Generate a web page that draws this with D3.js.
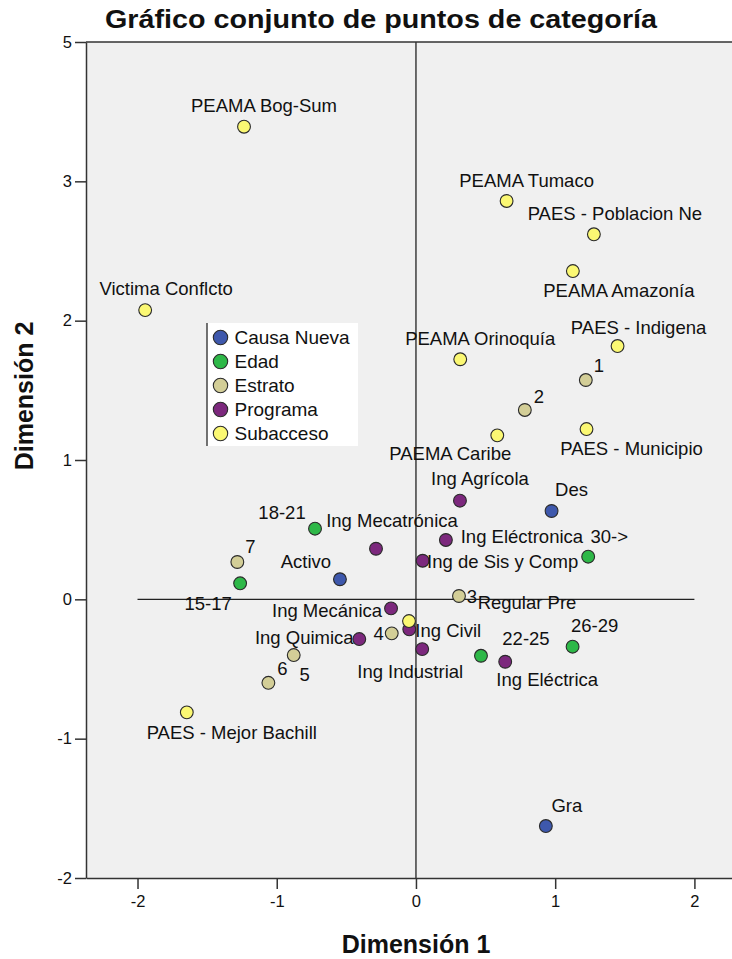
<!DOCTYPE html>
<html>
<head>
<meta charset="utf-8">
<script src="https://cdn.jsdelivr.net/npm/d3@7/dist/d3.min.js"></script>
<style>
  html, body { margin: 0; padding: 0; background: #fff; }
  svg { display: block; }
  text { font-family: "Liberation Sans", Arial, sans-serif; fill: #111; }
</style>
</head>
<body>
<svg id="chart" width="732" height="959"></svg>
<script>
// ---------------- DATA ----------------
const groups = ["Causa Nueva", "Edad", "Estrato", "Programa", "Subacceso"];

const causaNames = ["Activo", "Des", "Gra"];
const causaDim1  = [-0.546, 0.974, 0.933];
const causaDim2  = [0.144, 0.634, -1.627];

const edadNames = ["15-17", "18-21", "22-25", "26-29", "30->"];
const edadDim1  = [-1.263, -0.725, 0.467, 1.125, 1.237];
const edadDim2  = [0.115, 0.507, -0.405, -0.340, 0.306];

const estratoNames = ["1", "2", "3", "4", "5", "6", "7"];
const estratoDim1  = [1.220, 0.782, 0.309, -0.174, -0.878, -1.060, -1.283];
const estratoDim2  = [1.574, 1.359, 0.024, -0.244, -0.400, -0.599, 0.268];

const programaNames = ["Ing Agrícola", "Ing Mecatrónica", "Ing Eléctronica", "Ing de Sis y Comp",
  "Ing Mecánica", "Ing Civil", "Ing Quimica", "Ing Industrial", "Ing Eléctrica"];
const programaDim1 = [0.316, -0.287, 0.215, 0.048, -0.179, -0.048, -0.407, 0.045, 0.641];
const programaDim2 = [0.708, 0.363, 0.426, 0.277, -0.065, -0.215, -0.285, -0.357, -0.448];

const subaccesoNames = ["PEAMA Bog-Sum", "Victima Conflcto", "PEAMA Tumaco", "PAES - Poblacion Ne",
  "PEAMA Amazonía", "PAES - Indigena", "PEAMA Orinoquía", "PAEMA Caribe", "PAES - Municipio",
  "Regular Pre", "PAES - Mejor Bachill"];
const subaccesoDim1 = [-1.235, -1.945, 0.651, 1.278, 1.127, 1.448, 0.318, 0.584, 1.225, -0.050, -1.646];
const subaccesoDim2 = [3.392, 2.076, 2.859, 2.620, 2.356, 1.818, 1.723, 1.177, 1.222, -0.156, -0.811];

const xTickValues = [-2, -1, 0, 1, 2];
const xTickLabels = ["-2", "-1", "0", "1", "2"];
const yTickValues = [-2, -1, 0, 1, 2, 3, 4];
const yTickLabels = ["-2", "-1", "0", "1", "2", "3", "5"];

const title = "Gráfico conjunto de puntos de categoría";
const xTitle = "Dimensión 1";
const yTitle = "Dimensión 2";

// ---------------- LAYOUT / STYLE ----------------
const groupColors = ["#3E58AC", "#2EB848", "#D3CE97", "#7C287D", "#FBF873"];

// label offsets (pixels from point centre to label centre)
const labelOffsets = {
  "Activo": [-34, -18], "Des": [20, -21], "Gra": [21, -21],
  "15-17": [-32, 20], "18-21": [-33, -16], "22-25": [45, -17], "26-29": [22, -21], "30->": [21, -20],
  "1": [13, -14], "2": [14, -13], "3": [13, 1], "4": [-13, 0], "5": [11, 19], "6": [14, -14], "7": [13, -15],
  "Ing Agrícola": [20, -22], "Ing Mecatrónica": [16, -28], "Ing Eléctronica": [76, -3],
  "Ing de Sis y Comp": [80, 1], "Ing Mecánica": [-64, 2], "Ing Civil": [39, 1],
  "Ing Quimica": [-55, -2], "Ing Industrial": [-12, 22], "Ing Eléctrica": [42, 18],
  "PEAMA Bog-Sum": [20, -21], "Victima Conflcto": [21, -22], "PEAMA Tumaco": [20, -20],
  "PAES - Poblacion Ne": [21, -21], "PEAMA Amazonía": [46, 19], "PAES - Indigena": [21, -19],
  "PEAMA Orinoquía": [20, -21], "PAEMA Caribe": [-47, 18], "PAES - Municipio": [45, 19],
  "Regular Pre": [118, -19], "PAES - Mejor Bachill": [45, 20]
};

const plotLeft = 86, plotRight = 732, plotTop = 42, plotBottom = 878;

// ---------------- BUILD ----------------
const seriesTable = [
  [causaNames, causaDim1, causaDim2],
  [edadNames, edadDim1, edadDim2],
  [estratoNames, estratoDim1, estratoDim2],
  [programaNames, programaDim1, programaDim2],
  [subaccesoNames, subaccesoDim1, subaccesoDim2]
];
const points = [];
seriesTable.forEach((s, gi) => {
  s[0].forEach((name, i) => points.push({ group: gi, name, x: s[1][i], y: s[2][i] }));
});

const svg = d3.select("#chart");

const x = d3.scaleLinear().domain([-2.37, 2.27]).range([plotLeft, plotRight]);
const y = d3.scaleLinear().domain([-2, 4]).range([plotBottom, plotTop]);

// plot background
svg.append("rect")
  .attr("x", plotLeft).attr("y", plotTop)
  .attr("width", plotRight - plotLeft).attr("height", plotBottom - plotTop)
  .attr("fill", "#F0F0F0");

// reference lines
svg.append("line")
  .attr("x1", x(-2)).attr("x2", x(2)).attr("y1", y(0)).attr("y2", y(0))
  .attr("stroke", "#222").attr("stroke-width", 1.3);
svg.append("line")
  .attr("x1", x(0)).attr("x2", x(0)).attr("y1", y(4)).attr("y2", y(-2))
  .attr("stroke", "#222").attr("stroke-width", 1.3);

// frame
svg.append("line").attr("x1", plotLeft).attr("x2", plotRight).attr("y1", plotTop).attr("y2", plotTop)
  .attr("stroke", "#333").attr("stroke-width", 1.5);

// axes
const xAxis = d3.axisBottom(x).tickValues(xTickValues)
  .tickFormat((d, i) => xTickLabels[i]).tickSizeInner(11).tickSizeOuter(0).tickPadding(6);
const gx = svg.append("g").attr("transform", `translate(0,${plotBottom})`).call(xAxis);
gx.select(".domain").attr("stroke", "#333").attr("stroke-width", 1.5);
gx.selectAll(".tick line").attr("stroke", "#333").attr("stroke-width", 1.5);
gx.selectAll(".tick text").attr("font-size", 16.5).attr("fill", "#111")
  .style("font-family", "'Liberation Sans', Arial, sans-serif");

const yAxis = d3.axisLeft(y).tickValues(yTickValues)
  .tickFormat((d, i) => yTickLabels[i]).tickSizeInner(11).tickSizeOuter(0).tickPadding(3);
const gy = svg.append("g").attr("transform", `translate(${plotLeft},0)`).call(yAxis);
gy.select(".domain").attr("stroke", "#333").attr("stroke-width", 1.5);
gy.selectAll(".tick line").attr("stroke", "#333").attr("stroke-width", 1.5);
gy.selectAll(".tick text").attr("font-size", 16.5).attr("fill", "#111")
  .style("font-family", "'Liberation Sans', Arial, sans-serif");

// points
svg.append("g").selectAll("circle").data(points).join("circle")
  .attr("cx", d => x(d.x)).attr("cy", d => y(d.y)).attr("r", 6.4)
  .attr("fill", d => groupColors[d.group])
  .attr("stroke", "#2a2a2a").attr("stroke-width", 1.1);

// labels
svg.append("g").selectAll("text").data(points).join("text")
  .attr("x", d => x(d.x) + (labelOffsets[d.name] || [15, -15])[0])
  .attr("y", d => y(d.y) + (labelOffsets[d.name] || [15, -15])[1])
  .attr("dy", "0.35em")
  .attr("text-anchor", "middle")
  .attr("font-size", 18.5)
  .attr("fill", "#111")
  .text(d => d.name);

// legend
const legend = svg.append("g");
legend.append("rect").attr("x", 207).attr("y", 323).attr("width", 151).attr("height", 123).attr("fill", "#fff");
legend.append("line").attr("x1", 207).attr("x2", 207).attr("y1", 323).attr("y2", 446)
  .attr("stroke", "#444").attr("stroke-width", 1.5);
const li = legend.selectAll("g").data(groups).join("g")
  .attr("transform", (d, i) => `translate(220.5,${337.5 + i * 24})`);
li.append("circle").attr("r", 7.2).attr("fill", (d, i) => groupColors[i])
  .attr("stroke", "#2a2a2a").attr("stroke-width", 1.1);
li.append("text").attr("x", 14).attr("dy", "0.35em").attr("font-size", 19).text(d => d);

// titles
svg.append("text").attr("x", 381).attr("y", 28).attr("text-anchor", "middle")
  .attr("font-size", 26).attr("font-weight", "bold")
  .attr("textLength", 552).attr("lengthAdjust", "spacingAndGlyphs")
  .text(title);
svg.append("text").attr("x", 416).attr("y", 953).attr("text-anchor", "middle")
  .attr("font-size", 25).attr("font-weight", "bold").text(xTitle);
svg.append("text").attr("transform", "translate(33,396) rotate(-90)").attr("text-anchor", "middle")
  .attr("font-size", 25).attr("font-weight", "bold").text(yTitle);
</script>
</body>
</html>
